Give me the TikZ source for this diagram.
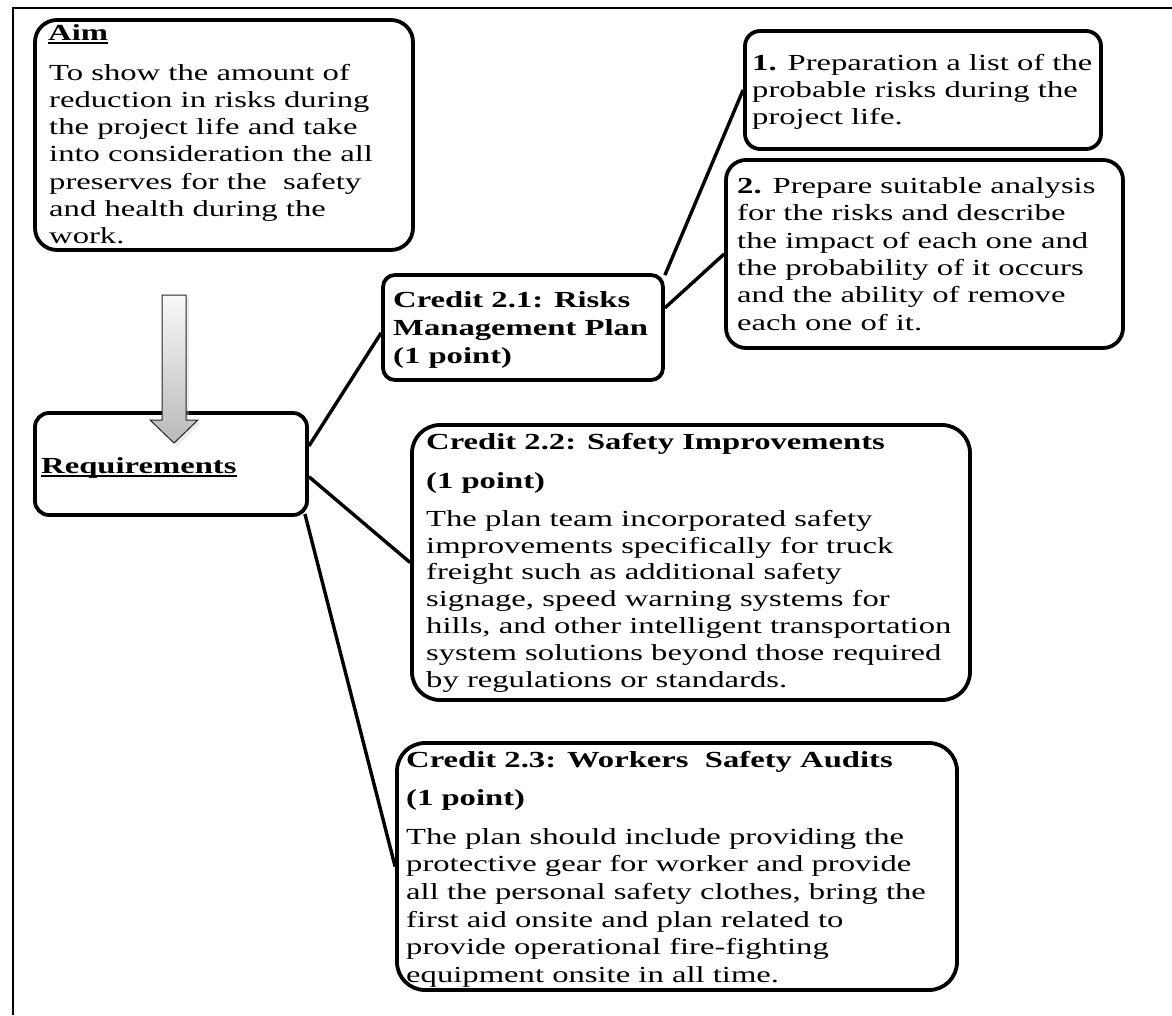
\documentclass[tikz,border=0pt]{standalone}
\usepackage{fontspec}
\setmainfont{Liberation Serif}
% wide setting of the serif face used throughout the chart
\newfontfamily\wf[FakeStretch=1.42]{Liberation Serif}
\usetikzlibrary{calc}
% underline with a firm rule
\newsavebox\ulbox
\newcommand\undl[1]{\sbox\ulbox{#1}\rlap{\rule[-4pt]{\wd\ulbox}{1.8pt}}\usebox\ulbox}
% strut that fixes the top of a text block 20pt above its first baseline
\newcommand\fs{\rule{0pt}{20pt}}

\begin{document}
\begin{tikzpicture}[x=1pt,y=-1pt,
  card/.style={draw, line width=3.8pt, rectangle, inner sep=0pt},
  head/.style={inner sep=0pt, anchor=base west, font=\wf\fontsize{23}{27}\selectfont\bfseries},
  body/.style={inner sep=0pt, anchor=north west, align=left, font=\wf\fontsize{23}{#1}\selectfont},
  link/.style={line width=3.4pt}]
\useasboundingbox (0,0) rectangle (1172,1015);

% outer frame (top and left edges)
\draw[line width=2.2pt] (1172,8) -- (13,8) -- (13,1015);

% boxes
\node[card, rounded corners=22pt, minimum width=378pt, minimum height=230pt] (aim) at (224,135) {};
\node[card, rounded corners=14pt, minimum width=272pt, minimum height=102pt] (req) at (171,464) {};
\node[card, rounded corners=12pt, minimum width=280pt, minimum height=105pt] (c21) at (523,327.5) {};
\node[card, rounded corners=15pt, minimum width=356pt, minimum height=118pt] (b1) at (923,90) {};
\node[card, rounded corners=20pt, minimum width=397pt, minimum height=188pt] (b2) at (924.5,254) {};
\node[card, rounded corners=28pt, minimum width=558pt, minimum height=275pt] (c22) at (691,562.5) {};
\node[card, rounded corners=28pt, minimum width=560pt, minimum height=247pt] (c23) at (677,866.5) {};

% connectors
\draw[link] ($(req.north east)!0.33!(req.south east)$) -- ($(c21.north west)!0.55!(c21.south west)$);
\draw[link] ($(req.north east)!0.62!(req.south east)$) -- ($(c22.north west)!0.5!(c22.south west)$);
\draw[link] ($(req.south east)+(-4,-3)$) -- ($(c23.north west)!0.5!(c23.south west)$);
\draw[link] ($(c21.north east)+(0,2)$) -- ($(b1.north west)!0.5!(b1.south west)$);
\draw[link] ($(c21.north east)!0.32!(c21.south east)$) -- ($(b2.north west)!0.5!(b2.south west)$);

% block arrow from the aim down to the requirements
\fill[gray!45, opacity=0.35] (165,298) -- (189,298) -- (189,423) -- (201,423) -- (177,446) -- (153,423) -- (165,423) -- cycle;
\shade[top color=gray!5, bottom color=gray!55, draw=black!85, line width=1pt]
  (162,295) -- (186,295) -- (186,420) -- (198,420) -- (174,443) -- (150,420) -- (162,420) -- cycle;

% texts
\node[head] (aimhead) at (48,40) {\undl{Aim}};
\node[body=27.2] (aimbody) at (49,60) {\fs To show the amount of\\
  reduction in risks during\\
  the project life and take\\
  into consideration the all\\
  preserves for the\ \ safety\\
  and health during the\\
  work.};

\node[head] (reqtxt) at (41,473) {\undl{Requirements}};

\node[body=28] (c21txt) at (393,287) {\fs\bfseries Credit 2.1: Risks\\
  \bfseries Management Plan\\
  \bfseries (1 point)};

\node[body=27] (b1txt) at (752,50) {\fs\textbf{1.} Preparation a list of the\\
  probable risks during the\\
  project life.};

\node[body=27.4] (b2txt) at (737,173) {\fs\textbf{2.} Prepare suitable analysis\\
  for the risks and describe\\
  the impact of each one and\\
  the probability of it occurs\\
  and the ability of remove\\
  each one of it.};

\node[head] (c22h1) at (426,449) {Credit 2.2: Safety Improvements};
\node[head] (c22h2) at (426,488) {(1 point)};
\node[body=26.8] (c22body) at (426,506) {\fs The plan team incorporated safety\\
  improvements specifically for truck\\
  freight such as additional safety\\
  signage, speed warning systems for\\
  hills, and other intelligent transportation\\
  system solutions beyond those required\\
  by regulations or standards.};

\node[head] (c23h1) at (406,767) {Credit 2.3: Workers\ \ Safety Audits};
\node[head] (c23h2) at (406,805) {(1 point)};
\node[body=27.6] (c23body) at (406,824) {\fs The plan should include providing the\\
  protective gear for worker and provide\\
  all the personal safety clothes, bring the\\
  first aid onsite and plan related to\\
  provide operational fire-fighting\\
  equipment onsite in all time.};
\end{tikzpicture}
\end{document}
